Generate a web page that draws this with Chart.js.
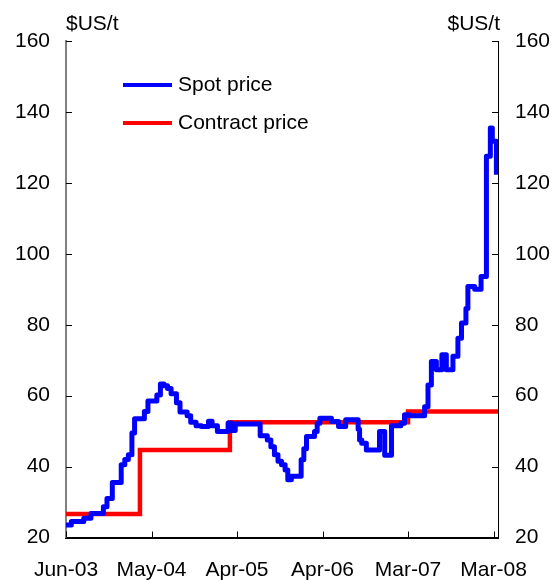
<!DOCTYPE html>
<html>
<head>
<meta charset="utf-8">
<script src="https://cdn.jsdelivr.net/npm/chart.js@4.4.1/dist/chart.umd.min.js"></script>
<style>
  html, body { margin: 0; padding: 0; background: #fff; }
  #wrap { width: 559px; height: 580px; }
</style>
</head>
<body>
<div id="wrap"><canvas id="coalChart" width="559" height="580"></canvas></div>
<script>
// Weekly coal prices, x = weeks since the start of Jun-03
const spotWeeks = [0, 3, 10, 14, 21, 23, 26, 31, 33, 35, 37, 38.5, 44, 46, 51, 53, 55, 57, 59, 62,
  64, 68, 70, 73, 76, 80, 82, 85, 91, 93, 95, 109, 113, 115, 117, 119, 121, 123, 124.5, 126.5,
  132, 133.5, 135, 139.5, 141, 142.5, 149, 153, 157, 164, 164.8, 166, 168.6, 176, 178.9, 182.7,
  188, 190, 192.9, 201.3, 203.2, 205.1, 207.9, 211, 213.5, 217.2, 220, 222, 224.5, 225.6, 229.4,
  233, 236, 238.2, 239.3, 241.6];
const spotValues = [23.5, 24.5, 25.4, 26.8, 28.7, 31, 35.5, 40.5, 42, 43.3, 49.5, 53.5, 55.5, 58.5, 60.2, 63.3, 62.8, 62, 60.5, 58,
  55.4, 54.3, 52.5, 51.5, 51.3, 52.8, 51.5, 49.9, 52.3, 50.2, 52, 48.7, 47.5, 45.6, 43.3, 41.5, 40.5, 39, 36.3, 37.3,
  41.9, 45, 48.5, 49.9, 52.2, 53.6, 52.7, 51.3, 53.2, 50.5, 47.5, 46.6, 44.7, 49.9, 43.2, 51.5,
  52.2, 54.6, 54.3, 56.9, 63, 69.6, 67.3, 71.5, 67.3, 71.1, 76.2, 80.5, 84.6, 90.8, 90,
  93.6, 127.5, 135.5, 131.7, 122.3];

const contractWeeks = [0, 41.5, 92, 192, 242.5];
const contractValues = [26.6, 44.7, 52.5, 55.5, 55.5];

const xTickWeeks = [0, 48, 96, 144, 192, 240];
const xTickLabels = ["Jun-03", "May-04", "Apr-05", "Apr-06", "Mar-07", "Mar-08"];
const yTicks = [20, 40, 60, 80, 100, 120, 140, 160];
const unitLabel = "$US/t";

const FONT = "\"Liberation Sans\", Arial, sans-serif";
Chart.defaults.font.family = FONT;
Chart.defaults.font.size = 21;
Chart.defaults.color = "#000";

function toPoints(xs, ys) {
  return xs.map((x, i) => ({ x: x, y: ys[i] }));
}

// Inward tick marks, unit labels and the legend inside the plot
const framePlugin = {
  id: "frame",
  afterDraw(chart) {
    const ctx = chart.ctx;
    const area = chart.chartArea;
    const xs = chart.scales.x;
    const ys = chart.scales.y;
    ctx.save();
    ctx.strokeStyle = "#000";
    ctx.lineWidth = 1;
    ctx.beginPath();
    yTicks.forEach(v => {
      const py = Math.round(ys.getPixelForValue(v)) + 0.5;
      ctx.moveTo(area.left, py);
      ctx.lineTo(area.left + 6, py);
      ctx.moveTo(area.right - 6, py);
      ctx.lineTo(area.right, py);
    });
    xTickWeeks.forEach(w => {
      const px = Math.round(xs.getPixelForValue(w)) + 0.5;
      ctx.moveTo(px, area.bottom);
      ctx.lineTo(px, area.bottom - 6);
    });
    ctx.stroke();

    ctx.font = "21px " + FONT;
    ctx.fillStyle = "#000";
    ctx.textBaseline = "alphabetic";
    ctx.textAlign = "left";
    ctx.fillText(unitLabel, area.left, 30);
    ctx.textAlign = "right";
    ctx.fillText(unitLabel, area.right + 2, 30);

    // legend
    ctx.textAlign = "left";
    chart.data.datasets.forEach((ds, i) => {
      const ly = 85 + i * 38;
      ctx.strokeStyle = ds.borderColor;
      ctx.lineWidth = 4;
      ctx.beginPath();
      ctx.moveTo(123, ly);
      ctx.lineTo(172, ly);
      ctx.stroke();
      ctx.fillText(ds.label, 178, ly + 5.5);
    });
    ctx.restore();
  }
};

const ctx = document.getElementById("coalChart");
const coalChart = new Chart(ctx.getContext("2d"), {
  type: "line",
  data: {
    datasets: [
      {
        label: "Spot price",
        data: toPoints(spotWeeks, spotValues),
        borderColor: "#0000ff",
        borderWidth: 5,
        borderJoinStyle: "round",
        stepped: true,
        pointRadius: 0,
        fill: false,
      },
      {
        label: "Contract price",
        data: toPoints(contractWeeks, contractValues),
        borderColor: "#ff0000",
        borderWidth: 4.5,
        stepped: true,
        pointRadius: 0,
        fill: false,
      },
    ],
  },
  options: {
    responsive: false,
    animation: false,
    events: [],
    layout: { padding: { top: 41, left: 0, right: 0, bottom: 0 } },
    plugins: {
      legend: { display: false },
      tooltip: { enabled: false },
    },
    scales: {
      x: {
        type: "linear",
        min: 0,
        max: 242.5,
        grid: { display: false, drawTicks: false },
        border: { display: true, color: "#000", width: 2 },
        afterBuildTicks: scale => {
          scale.ticks = xTickWeeks.map(v => ({ value: v }));
        },
        afterFit: scale => { scale.height = 42.5; },
        ticks: {
          autoSkip: false,
          maxRotation: 0,
          padding: 20,
          callback: value => xTickLabels[xTickWeeks.indexOf(value)],
        },
      },
      y: {
        position: "left",
        min: 20,
        max: 160,
        grid: { display: false, drawTicks: false },
        border: { display: true, color: "#808080", width: 2 },
        afterFit: scale => { scale.width = 66; },
        ticks: { stepSize: 20, padding: 16 },
      },
      y2: {
        position: "right",
        min: 20,
        max: 160,
        grid: { display: false, drawTicks: false },
        border: { display: true, color: "#000", width: 1 },
        afterFit: scale => { scale.width = 61; },
        ticks: { stepSize: 20, padding: 17 },
      },
    },
  },
  plugins: [framePlugin],
});
</script>
</body>
</html>
